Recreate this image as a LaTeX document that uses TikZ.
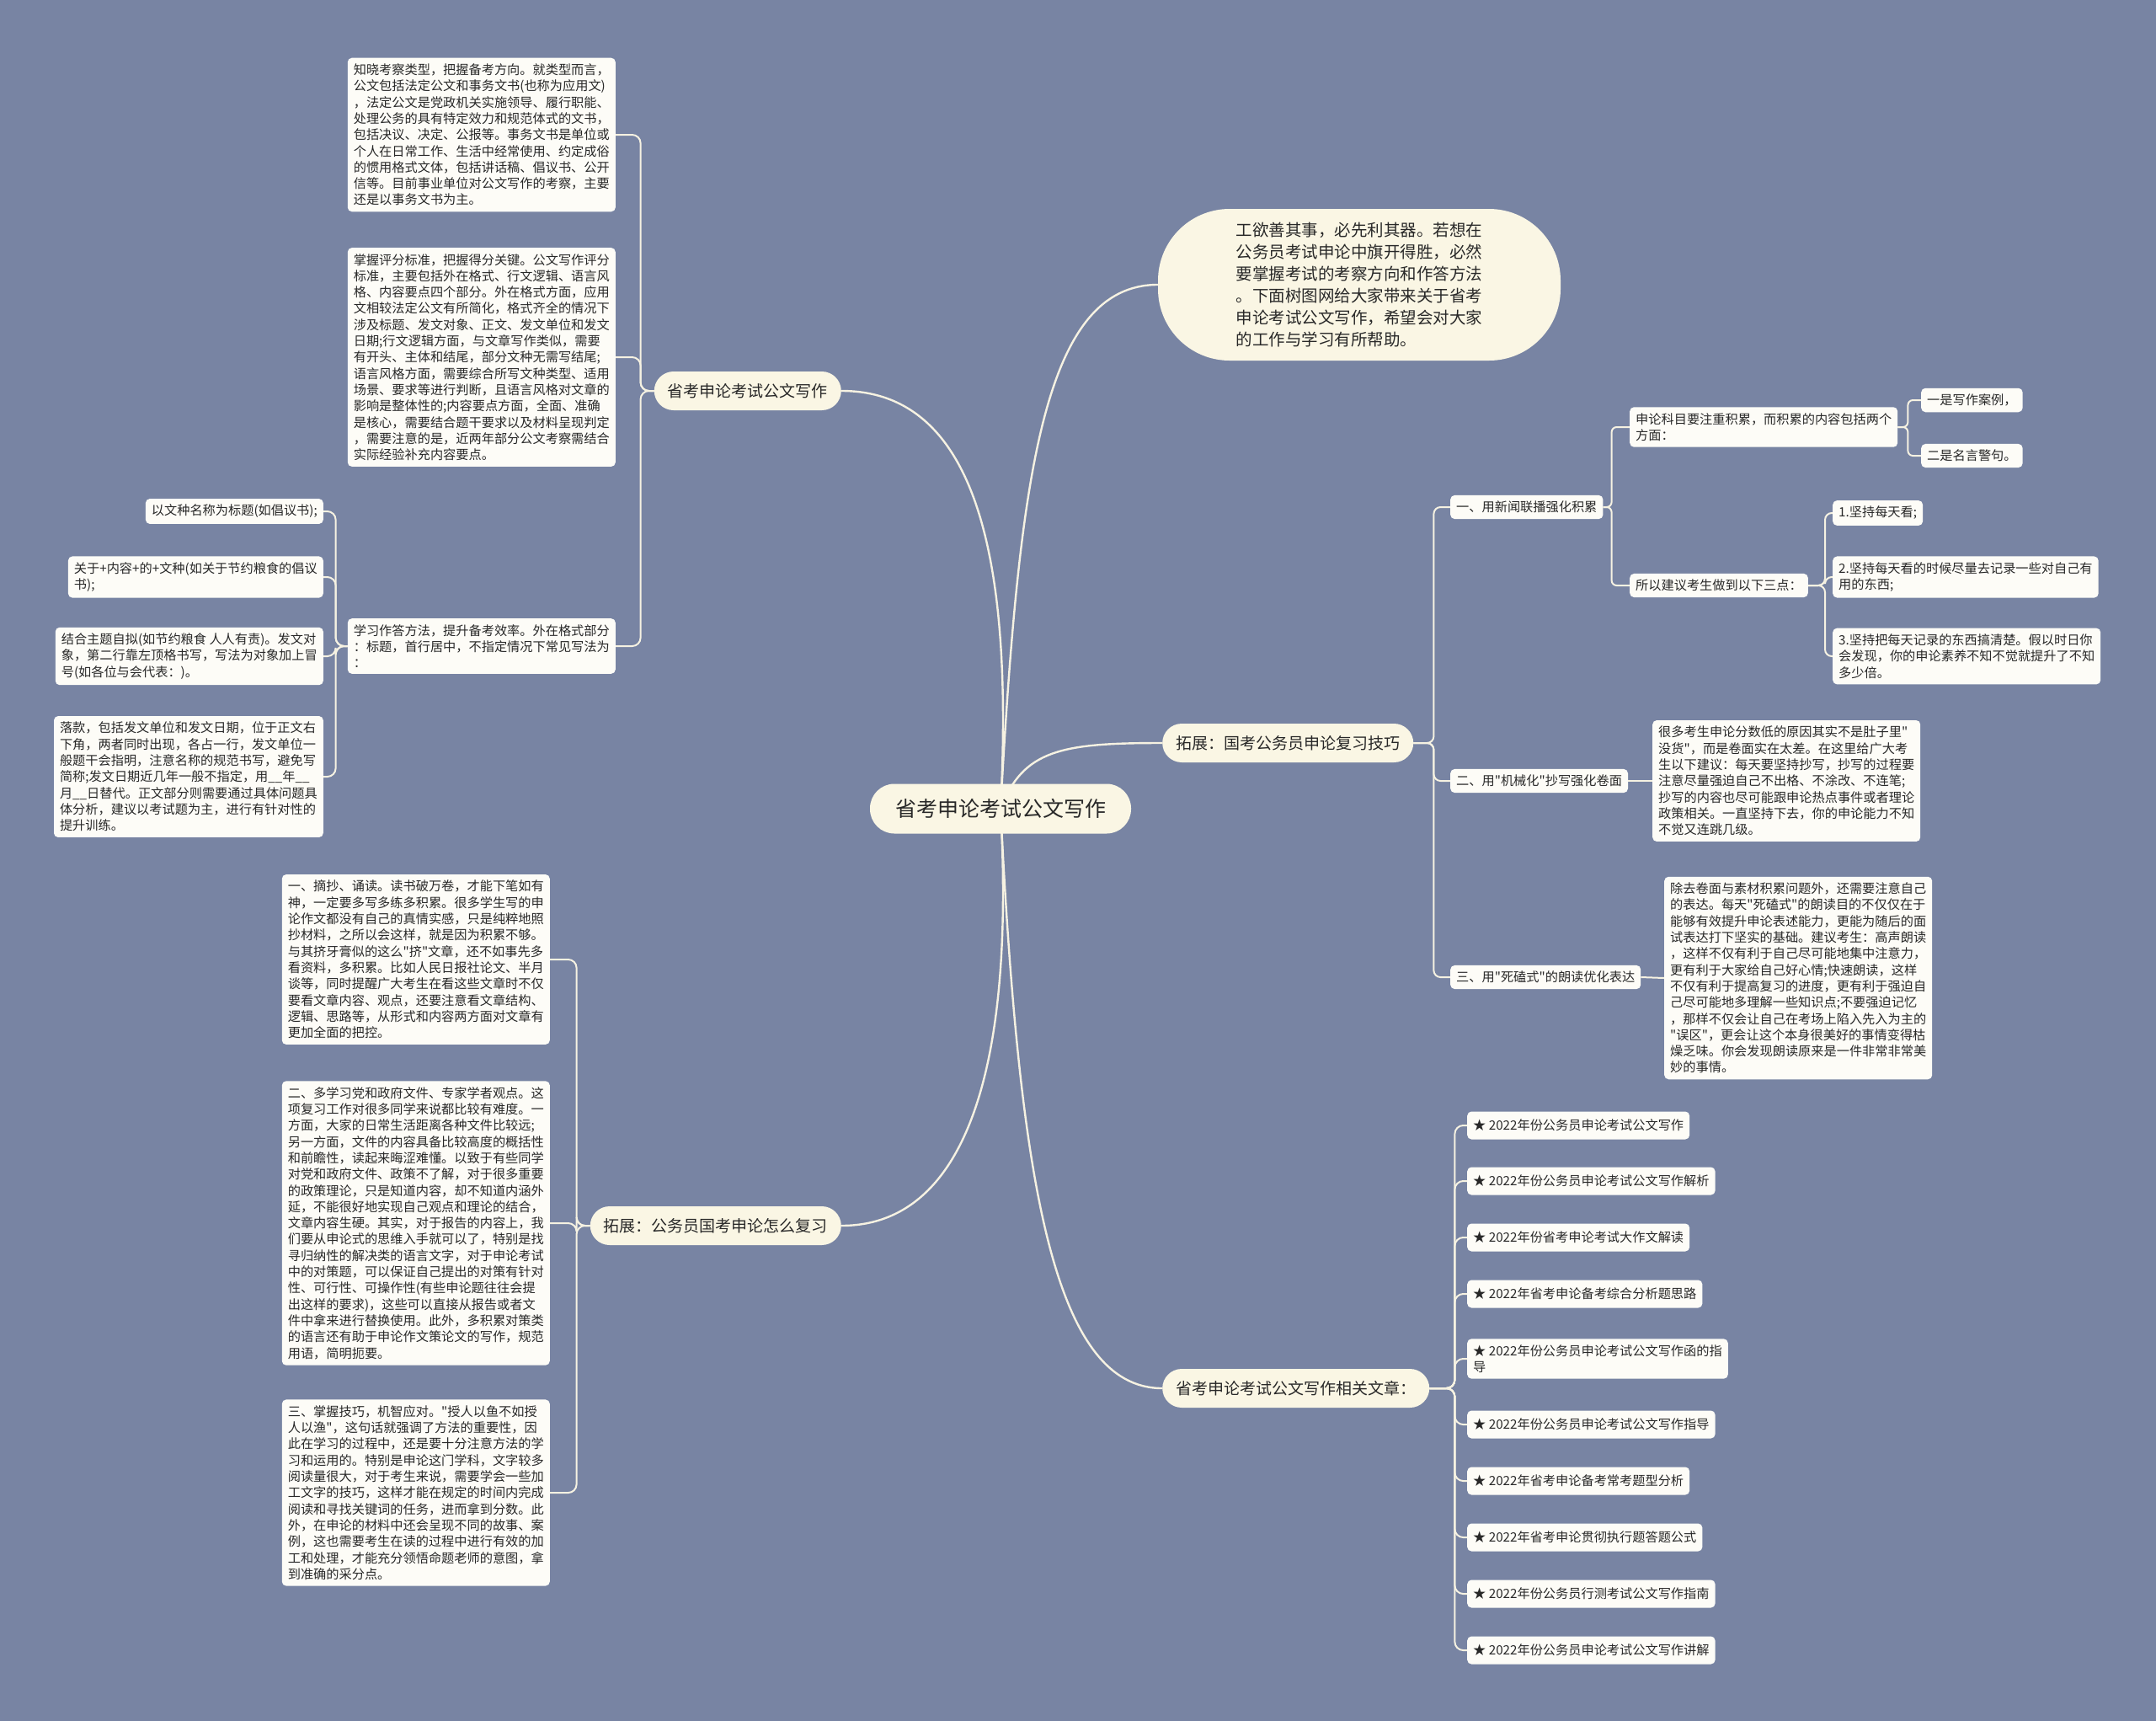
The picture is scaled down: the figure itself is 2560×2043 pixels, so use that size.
\documentclass[tikz,border=0pt]{standalone}
\usepackage{fontspec}
\setmainfont{Noto Sans CJK SC}[Ligatures=TeXOff]
\usetikzlibrary{backgrounds}

\definecolor{bgSlate}{RGB}{120,132,163}
\definecolor{topicCream}{RGB}{250,246,228}
\definecolor{leafPaper}{RGB}{253,252,247}
\definecolor{linkCream}{RGB}{246,242,226}
\definecolor{inkGray}{RGB}{40,40,40}

\begin{document}
\begin{tikzpicture}[
        x=1pt, y=-1pt,
        rootNode/.style={
            fill=topicCream,
            rounded corners=29pt,
            minimum height=59pt,
            inner xsep=30pt,
            text=inkGray,
            font=\fontsize{25}{30}\selectfont
        },
        branchNode/.style={
            fill=topicCream,
            rounded corners=23pt,
            minimum height=46pt,
            inner xsep=16pt,
            text=inkGray,
            font=\fontsize{19}{24}\selectfont
        },
        introNode/.style={
            fill=topicCream,
            rounded corners=85pt,
            minimum width=478pt,
            minimum height=180pt,
            align=left,
            text=inkGray,
            font=\fontsize{19.5}{26.1}\selectfont
        },
        leafNode/.style={
            fill=leafPaper,
            rounded corners=5pt,
            inner xsep=7pt,
            inner ysep=7pt,
            align=left,
            text=inkGray,
            font=\fontsize{15.2}{19.3}\selectfont
        },
        listNode/.style={
            leafNode,
            minimum height=33pt
        },
        mainLink/.style={
            draw=linkCream,
            line width=2.4pt
        },
        link/.style={
            draw=linkCream,
            line width=2pt,
            rounded corners=10pt
        }
    ]

        \useasboundingbox (0,0) rectangle (2560,2043);

        % Root and main topics
        \node[rootNode] (root) at (1188,960) {省考申论考试公文写作};

        \node[branchNode, anchor=east] (l1) at (999,464) {省考申论考试公文写作};
        \node[branchNode, anchor=east] (l2) at (999,1455) {拓展：公务员国考申论怎么复习};

        \node[introNode] (intro) at (1614,338) {
            工欲善其事，必先利其器。若想在\\
            公务员考试申论中旗开得胜，必然\\
            要掌握考试的考察方向和作答方法\\
            。下面树图网给大家带来关于省考\\
            申论考试公文写作，希望会对大家\\
            的工作与学习有所帮助。};

        \node[branchNode, anchor=west] (r2) at (1380,882) {拓展：国考公务员申论复习技巧};
        \node[branchNode, anchor=west] (r3) at (1380,1648) {省考申论考试公文写作相关文章：};

        % Left upper topic
        \node[leafNode, anchor=east] (a1) at (731,160) {
            知晓考察类型，把握备考方向。就类型而言，\\
            公文包括法定公文和事务文书(也称为应用文)\\
            ，法定公文是党政机关实施领导、履行职能、\\
            处理公务的具有特定效力和规范体式的文书，\\
            包括决议、决定、公报等。事务文书是单位或\\
            个人在日常工作、生活中经常使用、约定成俗\\
            的惯用格式文体，包括讲话稿、倡议书、公开\\
            信等。目前事业单位对公文写作的考察，主要\\
            还是以事务文书为主。};

        \node[leafNode, anchor=east] (a2) at (731,424) {
            掌握评分标准，把握得分关键。公文写作评分\\
            标准，主要包括外在格式、行文逻辑、语言风\\
            格、内容要点四个部分。外在格式方面，应用\\
            文相较法定公文有所简化，格式齐全的情况下\\
            涉及标题、发文对象、正文、发文单位和发文\\
            日期;行文逻辑方面，与文章写作类似，需要\\
            有开头、主体和结尾，部分文种无需写结尾;\\
            语言风格方面，需要综合所写文种类型、适用\\
            场景、要求等进行判断，且语言风格对文章的\\
            影响是整体性的;内容要点方面，全面、准确\\
            是核心，需要结合题干要求以及材料呈现判定\\
            ，需要注意的是，近两年部分公文考察需结合\\
            实际经验补充内容要点。};

        \node[leafNode, anchor=east] (a3) at (731,767) {
            学习作答方法，提升备考效率。外在格式部分\\
            ：标题，首行居中，不指定情况下常见写法为\\
            ：};

        \node[leafNode, anchor=east] (b1) at (384,607) {以文种名称为标题(如倡议书);};
        \node[leafNode, anchor=east] (b2) at (384,685) {
            关于+内容+的+文种(如关于节约粮食的倡议\\
            书);};
        \node[leafNode, anchor=east] (b3) at (384,779) {
            结合主题自拟(如节约粮食 人人有责)。发文对\\
            象，第二行靠左顶格书写，写法为对象加上冒\\
            号(如各位与会代表：)。};
        \node[leafNode, anchor=east] (b4) at (384,922) {
            落款，包括发文单位和发文日期，位于正文右\\
            下角，两者同时出现，各占一行，发文单位一\\
            般题干会指明，注意名称的规范书写，避免写\\
            简称;发文日期近几年一般不指定，用\_\_年\_\_\\
            月\_\_日替代。正文部分则需要通过具体问题具\\
            体分析，建议以考试题为主，进行有针对性的\\
            提升训练。};

        % Left lower topic
        \node[leafNode, anchor=east] (d1) at (653,1139) {
            一、摘抄、诵读。读书破万卷，才能下笔如有\\
            神，一定要多写多练多积累。很多学生写的申\\
            论作文都没有自己的真情实感，只是纯粹地照\\
            抄材料，之所以会这样，就是因为积累不够。\\
            与其挤牙膏似的这么"挤"文章，还不如事先多\\
            看资料，多积累。比如人民日报社论文、半月\\
            谈等，同时提醒广大考生在看这些文章时不仅\\
            要看文章内容、观点，还要注意看文章结构、\\
            逻辑、思路等，从形式和内容两方面对文章有\\
            更加全面的把控。};

        \node[leafNode, anchor=east] (d2) at (653,1452) {
            二、多学习党和政府文件、专家学者观点。这\\
            项复习工作对很多同学来说都比较有难度。一\\
            方面，大家的日常生活距离各种文件比较远;\\
            另一方面，文件的内容具备比较高度的概括性\\
            和前瞻性，读起来晦涩难懂。以致于有些同学\\
            对党和政府文件、政策不了解，对于很多重要\\
            的政策理论，只是知道内容，却不知道内涵外\\
            延，不能很好地实现自己观点和理论的结合，\\
            文章内容生硬。其实，对于报告的内容上，我\\
            们要从申论式的思维入手就可以了，特别是找\\
            寻归纳性的解决类的语言文字，对于申论考试\\
            中的对策题，可以保证自己提出的对策有针对\\
            性、可行性、可操作性(有些申论题往往会提\\
            出这样的要求)，这些可以直接从报告或者文\\
            件中拿来进行替换使用。此外，多积累对策类\\
            的语言还有助于申论作文策论文的写作，规范\\
            用语，简明扼要。};

        \node[leafNode, anchor=east] (d3) at (653,1772) {
            三、掌握技巧，机智应对。"授人以鱼不如授\\
            人以渔"，这句话就强调了方法的重要性，因\\
            此在学习的过程中，还是要十分注意方法的学\\
            习和运用的。特别是申论这门学科，文字较多\\
            阅读量很大，对于考生来说，需要学会一些加\\
            工文字的技巧，这样才能在规定的时间内完成\\
            阅读和寻找关键词的任务，进而拿到分数。此\\
            外，在申论的材料中还会呈现不同的故事、案\\
            例，这也需要考生在读的过程中进行有效的加\\
            工和处理，才能充分领悟命题老师的意图，拿\\
            到准确的采分点。};

        % Right middle topic
        \node[leafNode, anchor=west] (c1) at (1722,602) {一、用新闻联播强化积累};
        \node[leafNode, anchor=west] (c11) at (1935,507) {
            申论科目要注重积累，而积累的内容包括两个\\
            方面：};
        \node[leafNode, anchor=west] (c111) at (2281,475) {一是写作案例，};
        \node[leafNode, anchor=west] (c112) at (2281,541) {二是名言警句。};
        \node[leafNode, anchor=west] (c12) at (1935,695) {所以建议考生做到以下三点：};
        \node[leafNode, anchor=west] (c121) at (2176,609) {1.坚持每天看;};
        \node[leafNode, anchor=west] (c122) at (2176,685) {
            2.坚持每天看的时候尽量去记录一些对自己有\\
            用的东西;};
        \node[leafNode, anchor=west] (c123) at (2176,779) {
            3.坚持把每天记录的东西搞清楚。假以时日你\\
            会发现，你的申论素养不知不觉就提升了不知\\
            多少倍。};

        \node[leafNode, anchor=west] (c2) at (1722,927) {二、用"机械化"抄写强化卷面};
        \node[leafNode, anchor=west] (c21) at (1962,927) {
            很多考生申论分数低的原因其实不是肚子里"\\
            没货"，而是卷面实在太差。在这里给广大考\\
            生以下建议：每天要坚持抄写，抄写的过程要\\
            注意尽量强迫自己不出格、不涂改、不连笔;\\
            抄写的内容也尽可能跟申论热点事件或者理论\\
            政策相关。一直坚持下去，你的申论能力不知\\
            不觉又连跳几级。};

        \node[leafNode, anchor=west] (c3) at (1722,1160) {三、用"死磕式"的朗读优化表达};
        \node[leafNode, anchor=west] (c31) at (1976,1161) {
            除去卷面与素材积累问题外，还需要注意自己\\
            的表达。每天"死磕式"的朗读目的不仅仅在于\\
            能够有效提升申论表述能力，更能为随后的面\\
            试表达打下坚实的基础。建议考生：高声朗读\\
            ，这样不仅有利于自己尽可能地集中注意力，\\
            更有利于大家给自己好心情;快速朗读，这样\\
            不仅有利于提高复习的进度，更有利于强迫自\\
            己尽可能地多理解一些知识点;不要强迫记忆\\
            ，那样不仅会让自己在考场上陷入先入为主的\\
            "误区"，更会让这个本身很美好的事情变得枯\\
            燥乏味。你会发现朗读原来是一件非常非常美\\
            妙的事情。};

        % Related articles
        \foreach \n/\y/\txt in {
            1/1336/{★ 2022年份公务员申论考试公文写作},
            2/1402/{★ 2022年份公务员申论考试公文写作解析},
            3/1469/{★ 2022年份省考申论考试大作文解读},
            4/1536/{★ 2022年省考申论备考综合分析题思路},
            5/1613/{★ 2022年份公务员申论考试公文写作函的指\\导},
            6/1691/{★ 2022年份公务员申论考试公文写作指导},
            7/1758/{★ 2022年省考申论备考常考题型分析},
            8/1825/{★ 2022年省考申论贯彻执行题答题公式},
            9/1892/{★ 2022年份公务员行测考试公文写作指南},
            10/1959/{★ 2022年份公务员申论考试公文写作讲解}}
        {
            \node[listNode, anchor=west] (rel\n) at (1742,\y) {\txt};
        }

        % Connectors
        \begin{scope}[on background layer]
            \fill[bgSlate] (0,0) rectangle (2560,2043);

            \draw[mainLink] (root.center) .. controls (1205,640) and (1150,464) .. (l1.east);
            \draw[mainLink] (root.center) .. controls (1205,1260) and (1150,1455) .. (l2.east);
            \draw[mainLink] (root.center) .. controls (1210,560) and (1240,338) .. (intro.west);
            \draw[mainLink] (root.center) .. controls (1215,890) and (1260,882) .. (r2.west);
            \draw[mainLink] (root.center) .. controls (1210,1400) and (1250,1648) .. (r3.west);

            \foreach \kid in {a1,a2,a3}
                \draw[link] (l1.west) -- ++(-16,0) |- (\kid.east);
            \foreach \kid in {b1,b2,b3,b4}
                \draw[link] (a3.west) -- ++(-14,0) |- (\kid.east);
            \foreach \kid in {d1,d2,d3}
                \draw[link] (l2.west) -- ++(-16,0) |- (\kid.east);

            \foreach \kid in {c1,c2,c3}
                \draw[link, rounded corners=8pt] (r2.east) -- ++(24,0) |- (\kid.west);
            \foreach \kid in {c11,c12}
                \draw[link, rounded corners=6pt] (c1.east) -- ++(10,0) |- (\kid.west);
            \foreach \kid in {c111,c112}
                \draw[link, rounded corners=6pt] (c11.east) -- ++(12,0) |- (\kid.west);
            \foreach \kid in {c121,c122,c123}
                \draw[link, rounded corners=8pt] (c12.east) -- ++(20,0) |- (\kid.west);
            \draw[link] (c2.east) -- (c21.west);
            \draw[link] (c3.east) -- (c31.west);

            \foreach \n in {1,...,10}
                \draw[link] (r3.east) -- ++(30,0) |- (rel\n.west);
        \end{scope}

    \end{tikzpicture}
\end{document}
